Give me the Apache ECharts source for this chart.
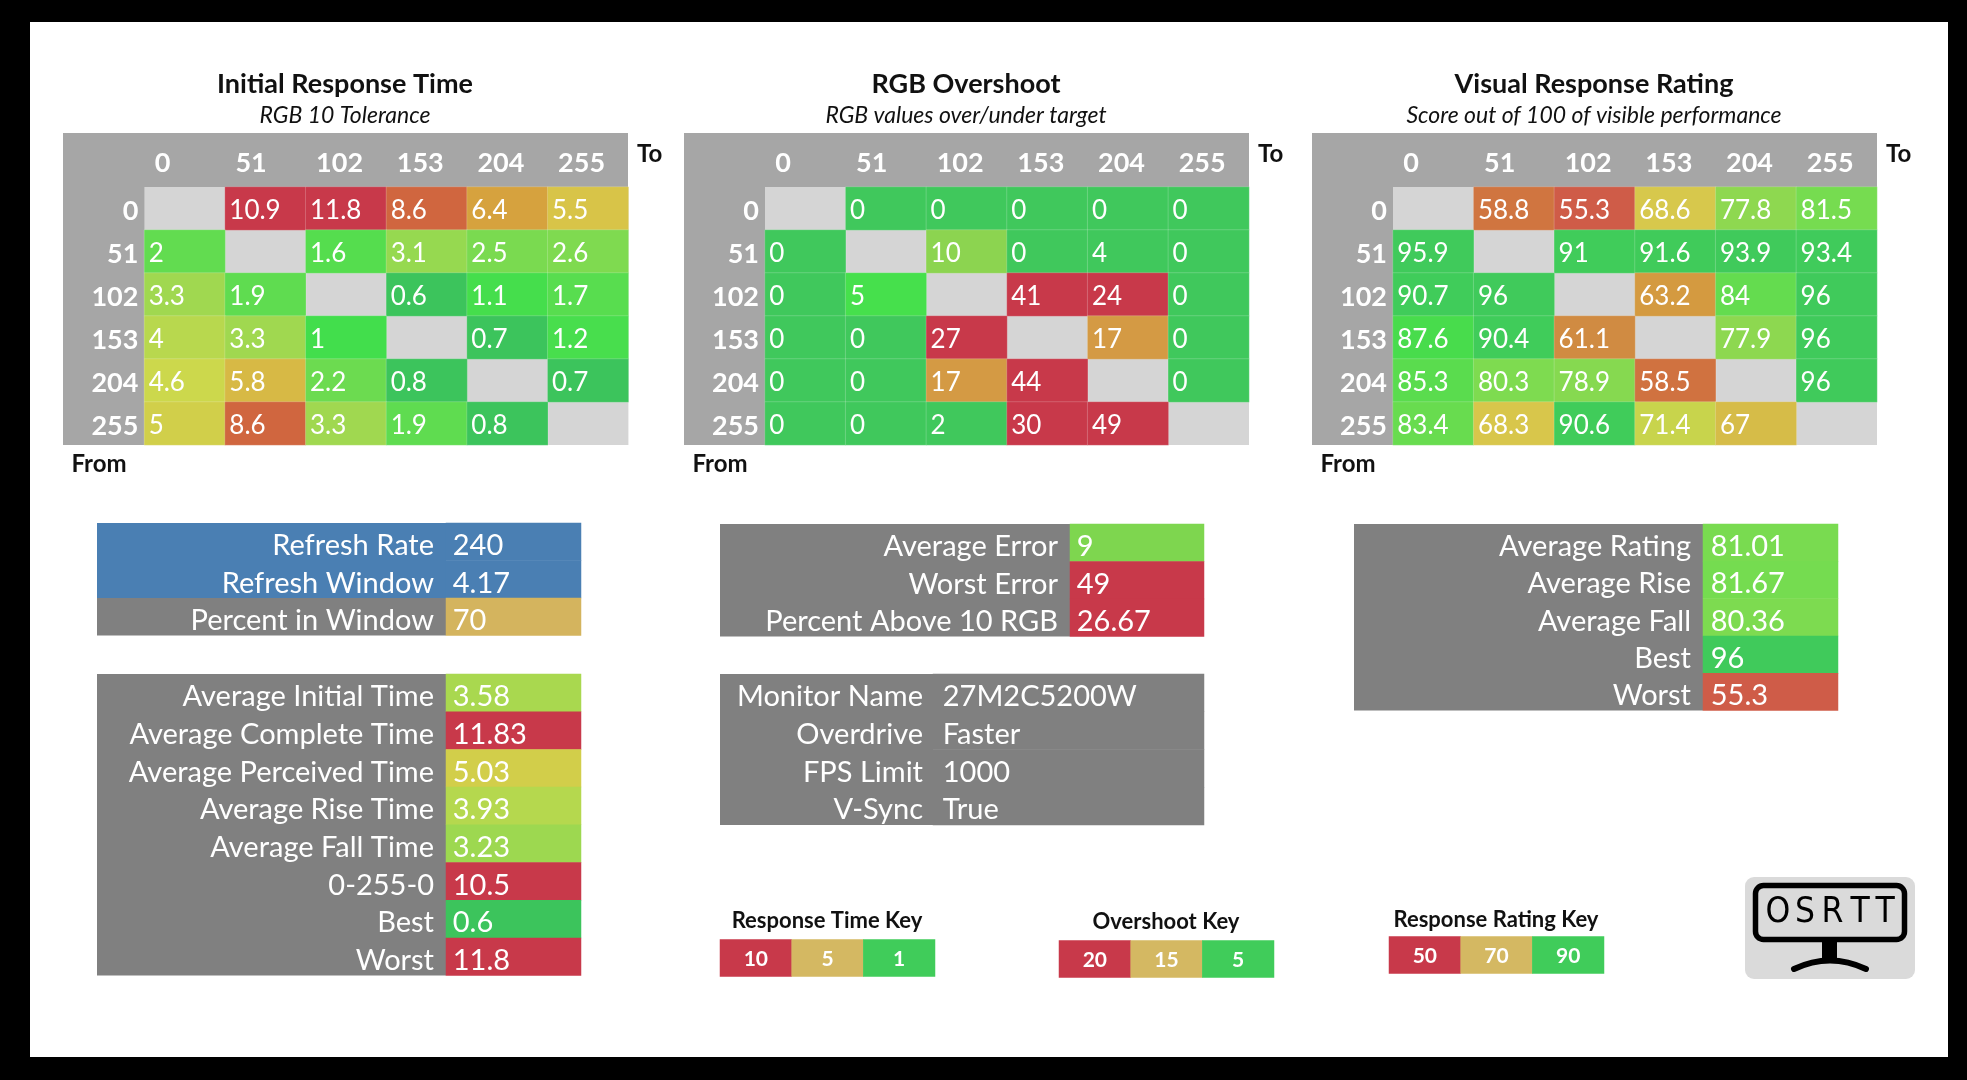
<!DOCTYPE html>
<html><head><meta charset="utf-8">
<script src="https://cdn.jsdelivr.net/npm/echarts/dist/echarts.min.js"></script>
<style>html,body{margin:0;padding:0;background:#000}#c{width:1967px;height:1080px}</style>
</head><body><div id="c"></div>
<script>
// ---------------- DATA ----------------
const heatLabels = ['0', '51', '102', '153', '204', '255'];
const responseTime = [
  [null, 10.9, 11.8, 8.6, 6.4, 5.5],
  [2, null, 1.6, 3.1, 2.5, 2.6],
  [3.3, 1.9, null, 0.6, 1.1, 1.7],
  [4, 3.3, 1, null, 0.7, 1.2],
  [4.6, 5.8, 2.2, 0.8, null, 0.7],
  [5, 8.6, 3.3, 1.9, 0.8, null]
];
const overshoot = [
  [null, 0, 0, 0, 0, 0],
  [0, null, 10, 0, 4, 0],
  [0, 5, null, 41, 24, 0],
  [0, 0, 27, null, 17, 0],
  [0, 0, 17, 44, null, 0],
  [0, 0, 2, 30, 49, null]
];
const rating = [
  [null, 58.8, 55.3, 68.6, 77.8, 81.5],
  [95.9, null, 91, 91.6, 93.9, 93.4],
  [90.7, 96, null, 63.2, 84, 96],
  [87.6, 90.4, 61.1, null, 77.9, 96],
  [85.3, 80.3, 78.9, 58.5, null, 96],
  [83.4, 68.3, 90.6, 71.4, 67, null]
];
const refreshLabels = ['Refresh Rate', 'Refresh Window', 'Percent in Window'];
const refreshValues = [240, 4.17, 70];
const rtStatLabels = ['Average Initial Time', 'Average Complete Time', 'Average Perceived Time', 'Average Rise Time', 'Average Fall Time', '0-255-0', 'Best', 'Worst'];
const rtStatValues = [3.58, 11.83, 5.03, 3.93, 3.23, 10.5, 0.6, 11.8];
const osStatLabels = ['Average Error', 'Worst Error', 'Percent Above 10 RGB'];
const osStatValues = [9, 49, 26.67];
const monitorLabels = ['Monitor Name', 'Overdrive', 'FPS Limit', 'V-Sync'];
const monitorValues = ['27M2C5200W', 'Faster', '1000', 'True'];
const ratingStatLabels = ['Average Rating', 'Average Rise', 'Average Fall', 'Best', 'Worst'];
const ratingStatValues = [81.01, 81.67, 80.36, 96, 55.3];
const rtKey = [10, 5, 1];
const osKey = [20, 15, 5];
const ratingKey = [50, 70, 90];

// ---------------- STYLE ----------------
const FONT = 'Lato';
const RED = '#c8394a', TAN = '#d4b862', GREEN = '#40cc5a';
const keyColors = [RED, TAN, GREEN];
const rtStops = [[0.9, '#3cc45c'], [1.0, '#42de4c'], [2, '#62dc50'], [3.3, '#a0d850'], [4.6, '#ccd84c'], [5.5, '#d8c448'], [6.4, '#d6a23e'], [8.6, '#d0663f'], [10, '#c8394a']];
const osStops = [[4, '#40c85c'], [5, '#46e04c'], [10, '#8cd450'], [17, '#d49a44'], [20, '#c8394a']];
const ratingStops = [[55, '#cf5a49'], [58.5, '#d07240'], [61, '#d08a42'], [63.2, '#d49a40'], [67, '#d6bc48'], [68.5, '#d8c84c'], [71.4, '#c8d44c'], [78, '#8cd850'], [81.5, '#76dc50'], [85.3, '#5adc4e'], [87.6, '#48dc4c'], [90, '#40cc5a'], [100, '#40c85c']];
const pctStops = [[50, RED], [70, '#d4b45e'], [90, GREEN]];

function hex(c) { return [parseInt(c.slice(1, 3), 16), parseInt(c.slice(3, 5), 16), parseInt(c.slice(5, 7), 16)]; }
function scaleColor(stops, v) {
  if (v <= stops[0][0]) return stops[0][1];
  for (let i = 1; i < stops.length; i++) {
    if (v <= stops[i][0]) {
      const [v0, c0] = stops[i - 1], [v1, c1] = stops[i];
      const t = (v - v0) / (v1 - v0), a = hex(c0), b = hex(c1);
      return 'rgb(' + a.map((x, k) => Math.round(x + (b[k] - x) * t)).join(',') + ')';
    }
  }
  return stops[stops.length - 1][1];
}

const grid = [], xAxis = [], yAxis = [], series = [];
const hidden = { axisLine: { show: false }, axisTick: { show: false }, splitLine: { show: false }, splitArea: { show: false } };
const matrixLefts = [144.4, 765, 1393];

function addMatrix(left, matrix, stops) {
  const gi = grid.length;
  grid.push({ left, top: 187, width: 484, height: 258, outerBoundsMode: 'none' });
  xAxis.push(Object.assign({ gridIndex: gi, type: 'category', data: heatLabels, position: 'top',
    axisLabel: { interval: 0, margin: 25, verticalAlign: 'middle', formatter: v => '{a|' + v + '}',
      rich: { a: { width: 60, align: 'left', color: '#fff', fontFamily: FONT, fontWeight: 'bold', fontSize: 27, padding: [3, 0, 0, 0] } } } }, hidden));
  yAxis.push(Object.assign({ gridIndex: gi, type: 'category', data: heatLabels, inverse: true,
    axisLabel: { interval: 0, margin: 6, verticalAlign: 'middle', formatter: v => '{a|' + v + '}',
      rich: { a: { color: '#fff', fontFamily: FONT, fontWeight: 'bold', fontSize: 27, padding: [5, 0, 0, 0] } } } }, hidden));
  const data = [];
  matrix.forEach((row, r) => row.forEach((v, c) => {
    if (v !== null) data.push({ value: [c, r, v], itemStyle: { color: scaleColor(stops, v) } });
  }));
  series.push({ type: 'heatmap', xAxisIndex: gi, yAxisIndex: gi, data, silent: true,
    itemStyle: { borderColor: 'rgba(255,255,255,0.18)', borderWidth: 1 },
    emphasis: { disabled: true },
    label: { show: true, position: 'insideLeft', distance: 5, offset: [0, 2.5], color: '#fff', fontFamily: FONT, fontSize: 26, formatter: p => String(p.value[2]) } });
}

function addTable(left, top, width, rowH, labels, values, colorFn, margin, dist) {
  const gi = grid.length;
  grid.push({ left, top, width, height: rowH * labels.length, outerBoundsMode: 'none' });
  xAxis.push(Object.assign({ gridIndex: gi, type: 'category', data: [''], show: false }, hidden));
  yAxis.push(Object.assign({ gridIndex: gi, type: 'category', data: labels, inverse: true,
    axisLabel: { interval: 0, margin, verticalAlign: 'middle', formatter: v => '{a|' + v + '}',
      rich: { a: { color: '#fff', fontFamily: FONT, fontSize: 29, padding: [8, 0, 0, 0] } } } }, hidden));
  const data = values.map((v, i) => ({ value: [0, i, typeof v === 'number' ? v : i], itemStyle: { color: colorFn(v, i) } }));
  series.push({ type: 'heatmap', xAxisIndex: gi, yAxisIndex: gi, data, silent: true,
    emphasis: { disabled: true },
    label: { show: true, position: 'insideLeft', distance: dist, offset: [0, 4], color: '#fff', fontFamily: FONT, fontSize: 29, formatter: p => String(values[p.dataIndex]) } });
}

function addKey(left, top, values) {
  const gi = grid.length;
  grid.push({ left, top, width: 215, height: 37, outerBoundsMode: 'none' });
  xAxis.push(Object.assign({ gridIndex: gi, type: 'category', data: values.map(String), show: false }, hidden));
  yAxis.push(Object.assign({ gridIndex: gi, type: 'category', data: [''], show: false }, hidden));
  series.push({ type: 'heatmap', xAxisIndex: gi, yAxisIndex: gi, silent: true, emphasis: { disabled: true },
    data: values.map((v, i) => ({ value: [i, 0, v], itemStyle: { color: keyColors[i] } })),
    label: { show: true, position: 'inside', offset: [0, 1], color: '#fff', fontFamily: FONT, fontWeight: 'bold', fontSize: 21, formatter: p => String(p.value[2]) } });
}

addMatrix(matrixLefts[0], responseTime, rtStops);
addMatrix(matrixLefts[1], overshoot, osStops);
addMatrix(matrixLefts[2], rating, ratingStops);

addTable(446, 523, 135, 37.5, refreshLabels, refreshValues, (v, i) => i < 2 ? '#4a7fb3' : scaleColor(pctStops, v), 12, 7);
addTable(446, 674, 135, 37.7, rtStatLabels, rtStatValues, v => scaleColor(rtStops, v), 12, 7);
addTable(1070, 524, 134, 37.5, osStatLabels, osStatValues, v => scaleColor(osStops, v), 12, 7);
addTable(933, 674, 271, 37.75, monitorLabels, monitorValues, () => '#808080', 10, 10);
addTable(1703, 524, 135, 37.3, ratingStatLabels, ratingStatValues, v => scaleColor(ratingStops, v), 12, 8);

addKey(720, 939.5, rtKey);
addKey(1059, 940.5, osKey);
addKey(1389, 936.5, ratingKey);

// ---------------- GRAPHICS ----------------
function rect(x, y, w, h, fill, z, r) { return { type: 'rect', z: z || 0, silent: true, shape: { x, y, width: w, height: h, r: r || 0 }, style: { fill } }; }
function text(t, x, y, font, align, fill) { return { type: 'text', z: 10, silent: true, x, y, style: { text: t, font, fill: fill || '#111', align: align || 'center', verticalAlign: 'middle', textAlign: align || 'center', textVerticalAlign: 'middle' } }; }

const g = [];
g.push(rect(30, 22, 1918, 1035, '#ffffff', -5));
[63, 684, 1312].forEach(x => g.push(rect(x, 133, 565, 312, '#a6a6a6', -2)));
matrixLefts.forEach(x => g.push(rect(x, 187, 484, 258, '#d5d5d5', -1)));
g.push(rect(97, 523, 349, 75, '#4a7fb3', 0));
g.push(rect(97, 598, 349, 37.5, '#808080', 0));
g.push(rect(97, 674, 349, 301.6, '#808080', 0));
g.push(rect(720, 524, 350, 112.5, '#808080', 0));
g.push(rect(720, 674, 213, 151, '#808080', 0));
g.push(rect(1354, 524, 349, 186.5, '#808080', 0));

const titles = [['Initial Response Time', 'RGB 10 Tolerance', 63], ['RGB Overshoot', 'RGB values over/under target', 684], ['Visual Response Rating', 'Score out of 100 of visible performance', 1312]];
titles.forEach(([t, s, x]) => {
  g.push(text(t, x + 282, 84, 'bold 27px ' + FONT));
  g.push(text(s, x + 282, 116, 'italic 23px ' + FONT));
  g.push(text('To', x + 574, 154, 'bold 24px ' + FONT, 'left'));
  g.push(text('From', x + 8.5, 464, 'bold 24px ' + FONT, 'left'));
});
g.push(text('Response Time Key', 827, 921, 'bold 22px ' + FONT));
g.push(text('Overshoot Key', 1166, 922, 'bold 22px ' + FONT));
g.push(text('Response Rating Key', 1496, 919.5, 'bold 22px ' + FONT));

// logo
g.push(rect(1745, 877, 170, 102, '#dadada', 0, 9));
g.push({ type: 'rect', z: 5, silent: true, shape: { x: 1755.5, y: 885.5, width: 149, height: 54, r: 8 }, style: { fill: 'none', stroke: '#000', lineWidth: 5.5 } });
[['O', 1778], ['S', 1805], ['R', 1832.5], ['T', 1860], ['T', 1885]].forEach(([c, x]) => g.push(text(c, x, 913, '35px "DejaVu Sans Condensed", "DejaVu Sans"', 'center', '#000')));
g.push(rect(1822, 941, 15, 20, '#000', 5));
g.push({ type: 'bezierCurve', z: 5, silent: true, shape: { x1: 1794, y1: 969, x2: 1866, y2: 969, cpx1: 1830, cpy1: 952 }, style: { stroke: '#000', lineWidth: 6, fill: 'none', lineCap: 'round' } });

const chart = echarts.init(document.getElementById('c'), null, { width: 1967, height: 1080 });
chart.setOption({
  backgroundColor: '#000',
  animation: false,
  textStyle: { fontFamily: FONT },
  grid, xAxis, yAxis, series,
  graphic: { elements: g }
});
</script></body></html>
